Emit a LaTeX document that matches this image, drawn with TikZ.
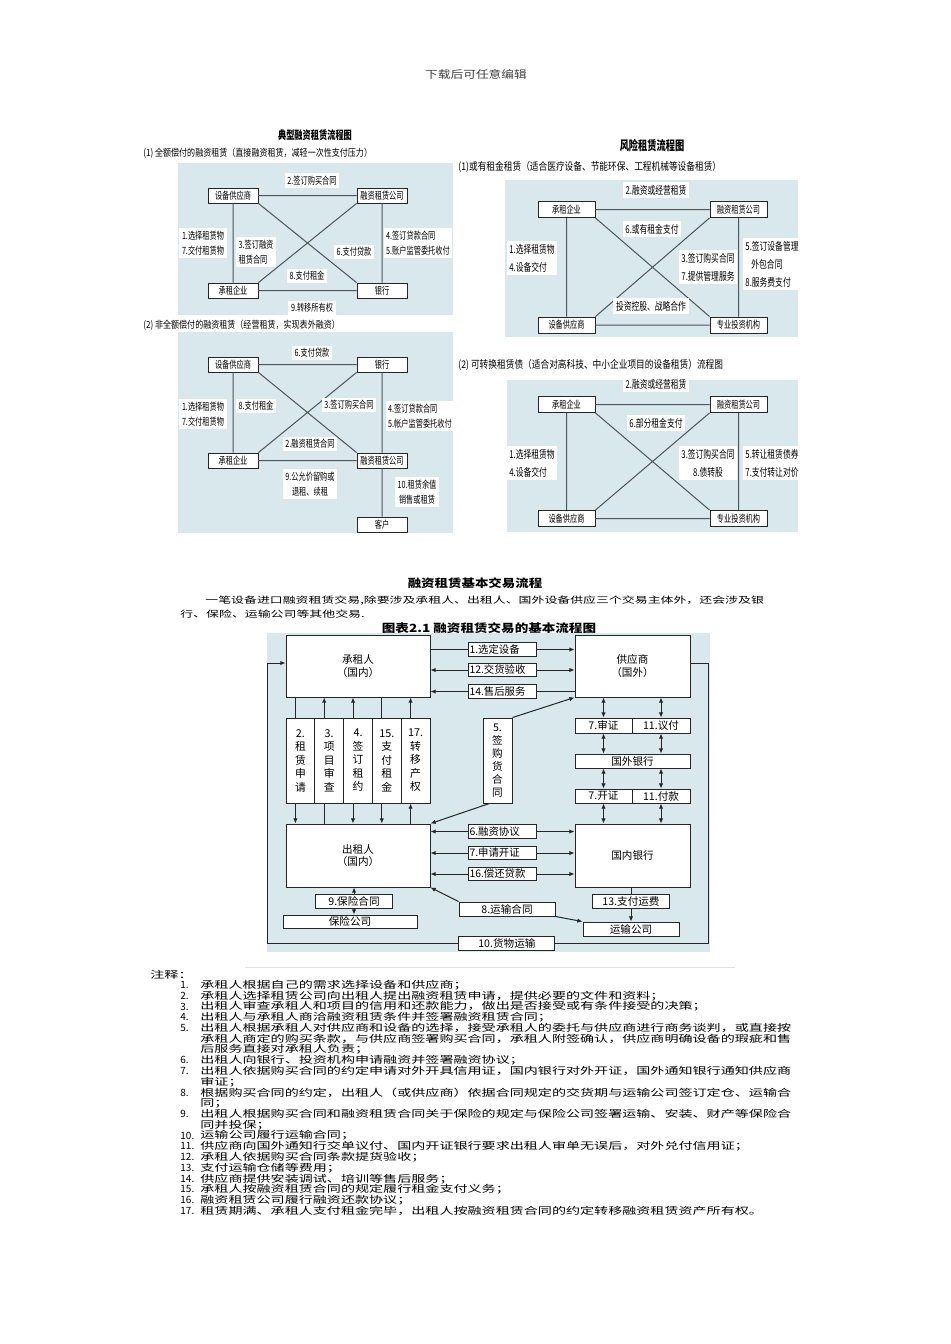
\documentclass[tikz,border=0pt]{standalone}
\usepackage{fontspec}
\setmainfont{Noto Sans CJK SC}
\newfontfamily\fnar{Noto Sans CJK SC}[FakeStretch=0.72]
\newfontfamily\fsub{Noto Sans CJK SC}[FakeStretch=0.82]
\newfontfamily\fmid{Noto Sans CJK SC}[FakeStretch=1.2]
\newfontfamily\fwide{Noto Sans CJK SC}[FakeStretch=1.45]
\usetikzlibrary{arrows.meta}
\definecolor{panelblue}{RGB}{216,232,236}
\definecolor{linegray}{RGB}{78,86,88}
\begin{document}
\begin{tikzpicture}[x=0.5pt,y=-0.5pt,>={Latex[length=2.6pt,width=2.2pt]},
  qbox/.style={draw=black!85,fill=white,line width=0.4pt,inner sep=0pt,minimum width=25pt,minimum height=7.5pt,font=\fnar\fontsize{5}{6}\selectfont},
  rbox/.style={qbox,minimum width=28.5pt,minimum height=8pt},
  qlab/.style={fill=white,inner sep=1.3pt,align=left,font=\fnar\fontsize{5}{7.5}\selectfont},
  rlab/.style={qlab,font=\fnar\fontsize{5.4}{9}\selectfont},
  qline/.style={draw=linegray,line width=0.5pt},
  fbox/.style={draw=black!85,fill=white,line width=0.45pt,inner sep=0pt,align=center,font=\fontsize{5.3}{6.3}\selectfont},
  flab/.style={fbox,text width=33pt,align=left,inner xsep=0.6pt,minimum height=6.6pt,font=\fontsize{5.2}{6}\selectfont},
  fcol/.style={fbox,minimum width=14.4pt,minimum height=42.5pt,font=\fontsize{5.4}{6.75}\selectfont},
  fline/.style={draw=black!85,line width=0.5pt},
  ftxt/.style={anchor=west,inner sep=0pt,font=\fwide\fontsize{4.85}{6}\selectfont},
  fnum/.style={anchor=west,inner sep=0pt,font=\fontsize{5}{6}\selectfont}]

\fill[white] (0,0) rectangle (950,1344);
\useasboundingbox (0,0) rectangle (950,1344);

\node[font=\fmid\fontsize{5.3}{6}\selectfont,text=black!75] (hdr) at (476,74) {下载后可任意编辑};

\node[font=\fnar\bfseries\fontsize{5.7}{6}\selectfont] (ta) at (315,135) {典型融资租赁流程图};
\node[anchor=west,inner sep=0pt,font=\fsub\fontsize{4.9}{6}\selectfont] (sa) at (143,153) {(1) 全额偿付的融资租赁（直接融资租赁，减轻一次性支付压力）};
\fill[panelblue] (178,163) rectangle (453,315);
\node[qbox] (aS) at (233,195.5) {设备供应商};
\node[qbox] (aR) at (382,195.5) {融资租赁公司};
\node[qbox] (aC) at (233,290.5) {承租企业};
\node[qbox] (aB) at (382,290.5) {银行};
\draw[qline] (aS) -- (aR) (aC) -- (aB) (aS) -- (aC) (aR) -- (aB) (aS.south east) -- (aB.north west) (aC.north east) -- (aR.south west);
\node[qlab] (a2) at (312,180.5) {2.签订购买合同};
\node[qlab] (a17) at (203,243) {1.选择租赁物\\7.交付租赁物};
\node[qlab] (a3) at (256,252) {3.签订融资\\租赁合同};
\node[qlab] (a6) at (354,252) {6.支付贷款};
\node[qlab] (a45) at (418,243) {4.签订贷款合同\\5.账户监管委托收付};
\node[qlab] (a8) at (307,276) {8.支付租金};
\node[qlab] (a9) at (312,308) {9.转移所有权};

\node[anchor=west,inner sep=0pt,font=\fsub\fontsize{4.9}{6}\selectfont] (sb) at (143,325) {(2) 非全额偿付的融资租赁（经营租赁，实现表外融资）};
\fill[panelblue] (178,332) rectangle (453,533);
\node[qbox] (bS) at (233,364.5) {设备供应商};
\node[qbox] (bB) at (382,364.5) {银行};
\node[qbox] (bC) at (233,460.5) {承租企业};
\node[qbox] (bR) at (382,460.5) {融资租赁公司};
\node[qbox] (bK) at (382,524.5) {客户};
\draw[qline] (bS) -- (bB) (bC) -- (bR) (bS) -- (bC) (bB) -- (bR) (bR) -- (bK) (bS.south east) -- (bR.north west) (bC.north east) -- (bB.south west);
\node[qlab] (b6) at (312,353) {6.支付贷款};
\node[qlab] (b17) at (203,414) {1.选择租赁物\\7.交付租赁物};
\node[qlab] (b8) at (256,406) {8.支付租金};
\node[qlab] (b3) at (349,405) {3.签订购买合同};
\node[qlab] (b45) at (420,416) {4.签订贷款合同\\5.帐户监管委托收付};
\node[qlab] (b2) at (310,444) {2.融资租赁合同};
\node[qlab,align=center] (b9) at (310,484) {9.公允价留购或\\退租、续租};
\node[qlab,align=center] (b10) at (417,492) {10.租赁余值\\销售或租赁};

\node[font=\fnar\bfseries\fontsize{6.4}{7}\selectfont] (tc) at (652,146) {风险租赁流程图};
\node[anchor=west,inner sep=0pt,font=\fsub\fontsize{5.3}{6}\selectfont] (sc) at (458,167) {(1)或有租金租赁（适合医疗设备、节能环保、工程机械等设备租赁）};
\fill[panelblue] (505,180) rectangle (798,337);
\node[rbox] (cC) at (566.5,209.5) {承租企业};
\node[rbox] (cR) at (738.5,209.5) {融资租赁公司};
\node[rbox] (cS) at (566.5,325) {设备供应商};
\node[rbox] (cI) at (738.5,325) {专业投资机构};
\draw[qline] (cC) -- (cR) (cS) -- (cI) (cC) -- (cS) (cR) -- (cI) (cC.south east) -- (cI.north west) (cS.north east) -- (cR.south west);
\node[rlab] (c2) at (656,190) {2.融资或经营租赁};
\node[rlab] (c6) at (652,229) {6.或有租金支付};
\node[rlab] (c14) at (532,258) {1.选择租赁物\\4.设备交付};
\node[rlab] (c37) at (708,267) {3.签订购买合同\\7.提供管理服务};
\node[rlab] (c58) at (772,264) {5.签订设备管理\\\hspace*{3pt}外包合同\\8.服务费支付};
\node[rlab] (cT) at (651,306) {投资控股、战略合作};

\node[anchor=west,inner sep=0pt,font=\fsub\fontsize{5.3}{6}\selectfont] (sd) at (458,365) {(2) 可转换租赁债（适合对高科技、中小企业项目的设备租赁）流程图};
\fill[panelblue] (507,380) rectangle (798,532);
\node[rbox] (dC) at (566.5,404.5) {承租企业};
\node[rbox] (dR) at (738.5,404.5) {融资租赁公司};
\node[rbox] (dS) at (566.5,518.5) {设备供应商};
\node[rbox] (dI) at (738.5,518.5) {专业投资机构};
\draw[qline] (dC) -- (dR) (dS) -- (dI) (dC) -- (dS) (dR) -- (dI) (dC.south east) -- (dI.north west) (dS.north east) -- (dR.south west);
\node[rlab] (d2) at (656,384) {2.融资或经营租赁};
\node[rlab] (d6) at (656,423) {6.部分租金支付};
\node[rlab] (d14) at (532,463) {1.选择租赁物\\4.设备交付};
\node[rlab,align=center] (d38) at (708,463) {3.签订购买合同\\8.债转股};
\node[rlab] (d57) at (772,463) {5.转让租赁债券\\7.支付转让对价};

\node[font=\fmid\bfseries\fontsize{5.6}{6}\selectfont] (tm) at (475,583) {融资租赁基本交易流程};
\node[ftxt,font=\fwide\fontsize{4.45}{6}\selectfont] (p1) at (205,601) {一笔设备进口融资租赁交易,除要涉及承租人、出租人、国外设备供应三个交易主体外，还会涉及银};
\node[ftxt,font=\fwide\fontsize{4.45}{6}\selectfont] (p2) at (180,614) {行、保险、运输公司等其他交易.};
\node[font=\fmid\bfseries\fontsize{5.65}{6}\selectfont] (cap) at (489,628) {图表2.1 融资租赁交易的基本流程图};

\fill[panelblue] (267,633) rectangle (710,952);
\node[fbox,minimum width=72pt,minimum height=31pt] (cz) at (358,666) {承租人\\（国内）};
\node[fbox,minimum width=57.5pt,minimum height=31pt] (gys) at (632.5,666) {供应商\\（国外）};
\node[fbox,minimum width=72pt,minimum height=31.5pt] (czr) at (358,855.5) {出租人\\（国内）};
\node[fbox,minimum width=57.5pt,minimum height=31.5pt] (gnyh) at (632.5,855.5) {国内银行};
\node[fbox,minimum width=57.5pt,minimum height=7pt] (gwyh) at (632.5,761) {国外银行};
\node[fbox,minimum width=28.5pt,minimum height=7.5pt] (sz) at (603.5,725.5) {7.审证};
\node[fbox,minimum width=29pt,minimum height=7.5pt] (yf) at (661,725.5) {11.议付};
\node[fbox,minimum width=28.5pt,minimum height=7pt] (kz) at (603.5,796) {7.开证};
\node[fbox,minimum width=29pt,minimum height=7pt] (fk) at (661,796) {11.付款};

\draw[fline,->] ([yshift=8.25pt]cz.east) -- node[flab] (l1) {1.选定设备} ([yshift=8.25pt]gys.west);
\draw[fline,<->] ([yshift=-2pt]cz.east) -- node[flab] (l12) {12.交货验收} ([yshift=-2pt]gys.west);
\draw[fline,<-] ([yshift=-12.75pt]cz.east) -- node[flab] (l14) {14.售后服务} ([yshift=-12.75pt]gys.west);
\draw[fline,<->] ([yshift=12pt]czr.east) -- node[flab] (l6) {6.融资协议} ([yshift=12pt]gnyh.west);
\draw[fline,<->] ([yshift=1.25pt]czr.east) -- node[flab] (l7) {7.申请开证} ([yshift=1.25pt]gnyh.west);
\draw[fline,<->] ([yshift=-9.25pt]czr.east) -- node[flab] (l16) {16.偿还贷款} ([yshift=-9.25pt]gnyh.west);

\foreach \u/\v in {sz/kz,yf/fk} {
  \draw[fline,<->] (gys.south -| \u) -- (\u.north);
  \draw[fline,<->] (\u.south) -- (gwyh.north -| \u);
  \draw[fline,<->] (gwyh.south -| \v) -- (\v.north);
  \draw[fline,<->] (\v.south) -- (gnyh.north -| \v);
}

\node[fcol] (c2) at (300.4,760.5) {2.\\租\\赁\\申\\请};
\node[fcol] (c3) at (329.2,760.5) {3.\\项\\目\\审\\查};
\node[fcol] (c4) at (358,760.5) {4.\\签\\订\\租\\约};
\node[fcol] (c15) at (386.8,760.5) {15.\\支\\付\\租\\金};
\node[fcol] (c17) at (415.6,760.5) {17.\\转\\移\\产\\权};
\node[fcol,minimum width=14.5pt,font=\fontsize{5.3}{6.5}\selectfont] (c5) at (497.5,760.5) {5.\\签\\购\\货\\合\\同};

\foreach \c/\ta/\tb in {c2/-/->,c3/->/-,c4/->/->,c15/-/->,c17/->/<-} {
  \coordinate (t) at ([xshift=-2.5pt]\c.north);
  \coordinate (b) at ([xshift=-2.5pt]\c.south);
  \draw[fline,\ta] (t) -- (t |- cz.south);
  \draw[fline,\tb] (b) -- (b |- czr.north);
}
\draw[fline,->] (c5.north east) -- (gys.south west);
\coordinate (c5b) at ([xshift=-4pt]c5.south);
\draw[fline,->] (c5b) -- (czr.north east);

\node[fbox,minimum width=67pt,minimum height=6.5pt] (bx) at (350,921.5) {保险公司};
\coordinate (q) at ([xshift=-2pt]czr.south);
\draw[fline,<->] (q) -- node[fbox,minimum width=38.5pt,minimum height=7pt] (l9) {9.保险合同} (q |- bx.north);

\node[fbox,minimum width=48pt,minimum height=7pt] (ys) at (631,929) {运输公司};
\draw[fline,->] (gnyh.south -| ys) -- node[pos=0.4,fbox,minimum width=38.5pt,minimum height=7pt] (l13) {13.支付运费} (ys.north);
\node[fbox,minimum width=48pt,minimum height=7pt] (l8) at (507,909) {8.运输合同};
\draw[fline,->] (l8.north west) -- (czr.south east);
\draw[fline,->] (l8.south east) -- (ys.north west);

\coordinate (br) at (708,943);
\coordinate (bl) at (267,943);
\draw[fline,->] ([yshift=1.5pt]gys.east) -| (br) -- node[pos=0.456,fbox,minimum width=48pt,minimum height=7pt] (l10) {10.货物运输} (bl) |- ([yshift=1.5pt]cz.west);

\draw[black!12,line width=0.4pt] (245,967) -- (735,967);
\node[ftxt] (zs) at (150,975) {注释：};
\foreach \t [count=\k] in {承租人根据自己的需求选择设备和供应商；,
  承租人选择租赁公司向出租人提出融资租赁申请，提供必要的文件和资料；,
  出租人审查承租人和项目的信用和还款能力，做出是否接受或有条件接受的决策；,
  出租人与承租人商洽融资租赁条件并签署融资租赁合同；,
  出租人根据承租人对供应商和设备的选择，接受承租人的委托与供应商进行商务谈判，或直接按,
  承租人商定的购买条款，与供应商签署购买合同，承租人附签确认，供应商明确设备的瑕疵和售,
  后服务直接对承租人负责；,
  出租人向银行、投资机构申请融资并签署融资协议；,
  出租人依据购买合同的约定申请对外开具信用证，国内银行对外开证，国外通知银行通知供应商,
  审证；,
  根据购买合同的约定，出租人（或供应商）依据合同规定的交货期与运输公司签订定仓、运输合,
  同；,
  出租人根据购买合同和融资租赁合同关于保险的规定与保险公司签署运输、安装、财产等保险合,
  同并投保；,
  运输公司履行运输合同；,
  供应商向国外通知行交单议付、国内开证银行要求出租人审单无误后，对外兑付信用证；,
  承租人依据购买合同条款提货验收；,
  支付运输仓储等费用；,
  供应商提供安装调试、培训等售后服务；,
  承租人按融资租赁合同的规定履行租金支付义务；,
  融资租赁公司履行融资还款协议；,
  租赁期满、承租人支付租金完毕，出租人按融资租赁合同的约定转移融资租赁资产所有权。}
  \node[ftxt] (nt\k) at (200,{985+10.76*(\k-1)}) {\t};
\foreach \k/\n in {1/1.,2/2.,3/3.,4/4.,5/5.,8/6.,9/7.,11/8.,13/9.,15/10.,16/11.,17/12.,18/13.,19/14.,20/15.,21/16.,22/17.}
  \node[fnum] (nn\k) at (180,{985+10.76*(\k-1)}) {\n};
\end{tikzpicture}
\end{document}
